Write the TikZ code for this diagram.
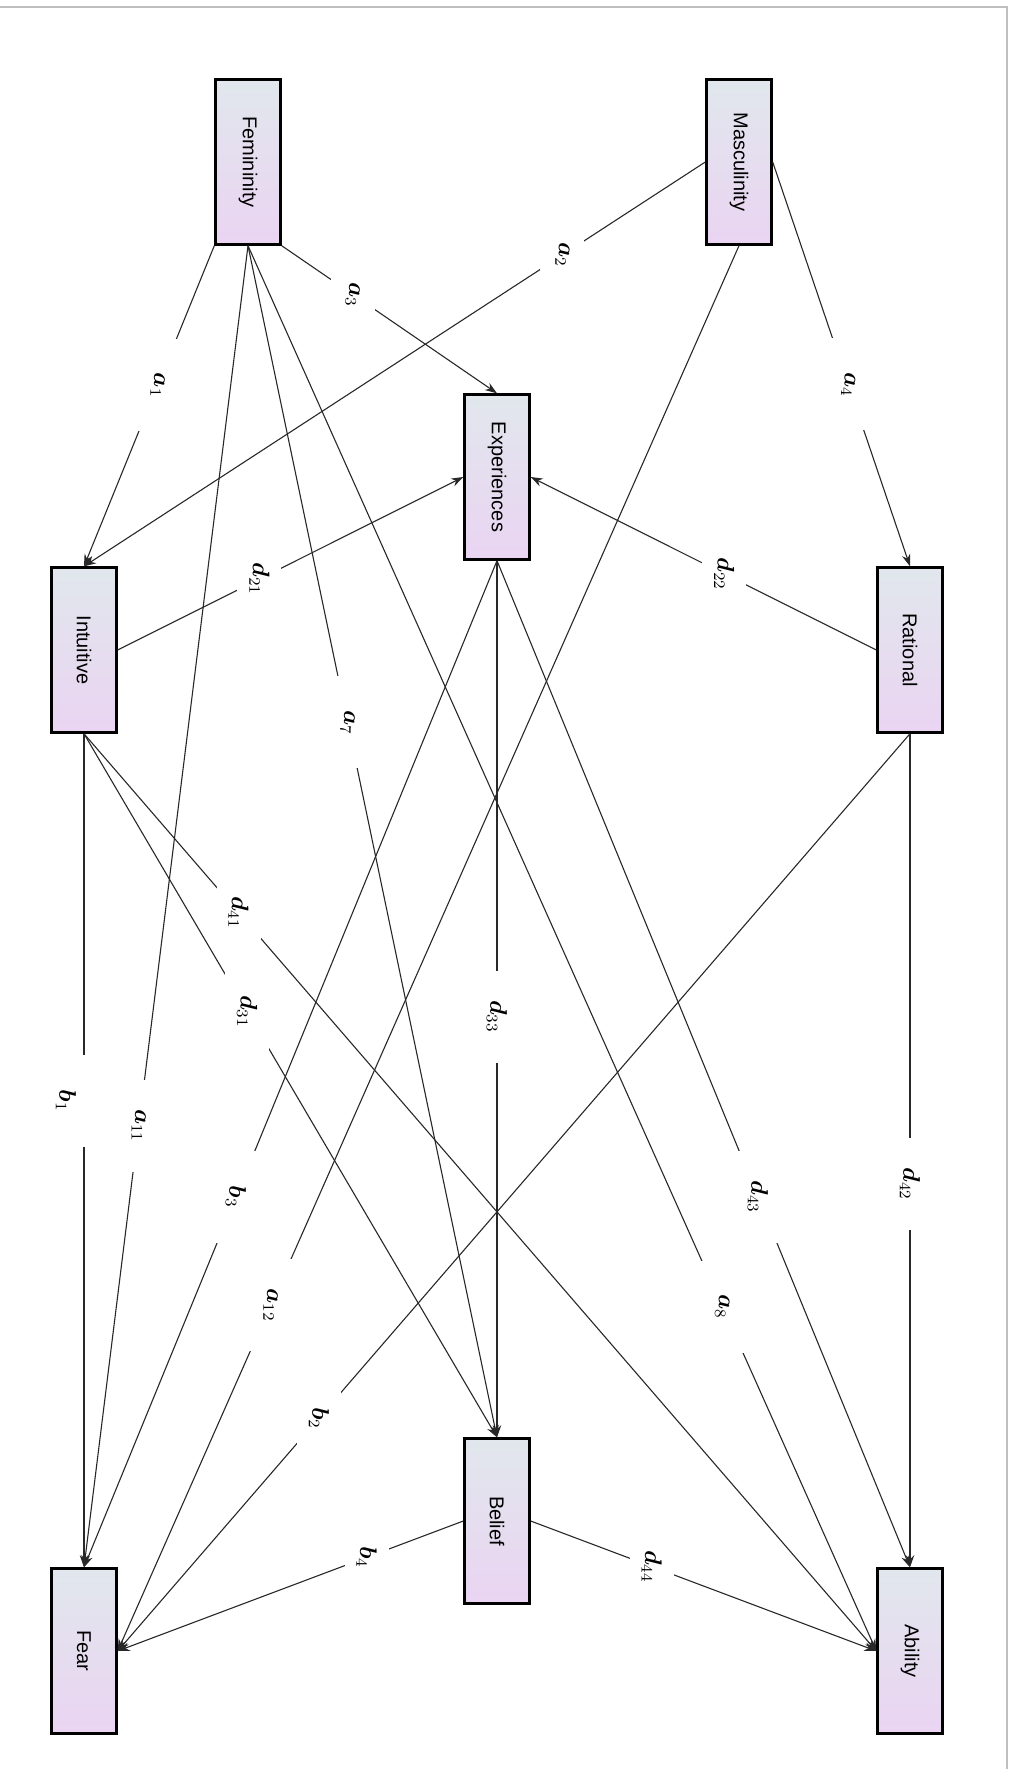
\documentclass[tikz,border=0pt]{standalone}
\usepackage{fontspec}
\usepackage{graphicx}
\usepackage{bm}
\setmainfont{Liberation Sans}
\usetikzlibrary{arrows.meta, positioning}

\definecolor{boxtop}{RGB}{225,231,237}
\definecolor{boxbot}{RGB}{234,212,242}
\definecolor{edgegray}{RGB}{40,40,40}

\tikzset{
  var/.style = {draw, line width=1.2pt, rectangle, top color=boxtop, bottom color=boxbot,
                minimum width=32.5pt, minimum height=82.5pt, inner sep=0pt,
                font=\fontsize{10}{12}\selectfont},
  path/.style = {draw=edgegray, line width=0.55pt, -{Stealth[length=6pt, width=4.2pt]}},
  lbl/.style = {fill=white, rotate=-90, inner sep=0pt, minimum width=46pt,
                minimum height=22pt, font=\fontsize{12}{12}\selectfont}
}

\newcommand{\vtext}[1]{\rotatebox{-90}{#1}}

\begin{document}
\begin{tikzpicture}[x=0.5pt, y=-0.5pt]
  \useasboundingbox (0,0) rectangle (1010,1769);
  \draw[gray!50, line width=1pt] (0,7) -- (1007,7) -- (1007,1769);

  % variables
  \node[var] (fem)  at (248,162)  {\vtext{Femininity}};
  \node[var] (masc) at (739,162)  {\vtext{Masculinity}};
  \node[var] (exp)  at (497,477)  {\vtext{Experiences}};
  \node[var] (int)  at (84,650)   {\vtext{Intuitive}};
  \node[var] (rat)  at (910,650)  {\vtext{Rational}};
  \node[var] (bel)  at (497,1521) {\vtext{Belief}};
  \node[var] (fear) at (84,1651)  {\vtext{Fear}};
  \node[var] (abil) at (910,1651) {\vtext{Ability}};

  % paths from the gender roles
  \draw[path] (fem.south west) -- node[lbl, pos=.435] {$\bm{a}_{1}$} (int.north);
  \draw[path] (masc.west)      -- node[lbl, pos=.23]  {$\bm{a}_{2}$} (int.north);
  \draw[path] (fem.south east) -- node[lbl, pos=.33]  {$\bm{a}_{3}$} (exp.north);
  \draw[path] (masc.east)      -- node[lbl, pos=.55]  {$\bm{a}_{4}$} (rat.north);
  \draw[path] (fem.south)      -- node[lbl, pos=.40]  {$\bm{a}_{7}$} (bel.north);
  \draw[path] (fem.south)      -- node[lbl, pos=.755] {$\bm{a}_{8}$} (abil.west);
  \draw[path] (fem.south)      -- node[lbl, pos=.666] {$\bm{a}_{11}$} (fear.north);
  \draw[path] (masc.south)     -- node[lbl, pos=.754] {$\bm{a}_{12}$} (fear.east);

  % thinking styles
  \draw[path] (int.east)  -- node[lbl, pos=.41]  {$\bm{d}_{21}$} (exp.west);
  \draw[path] (rat.west)  -- node[lbl, pos=.44]  {$\bm{d}_{22}$} (exp.east);
  \draw[path] (int.south) -- node[lbl, pos=.395] {$\bm{d}_{31}$} (bel.north);
  \draw[path] (int.south) -- node[lbl, pos=.195] {$\bm{d}_{41}$} (abil.west);
  \draw[path] (int.south) -- node[xshift=-9pt, lbl, pos=.44] {$\bm{b}_{1}$} (fear.north);
  \draw[path] (rat.south) -- node[lbl, pos=.54]  {$\bm{d}_{42}$} (abil.north);
  \draw[path] (rat.south) -- node[lbl, pos=.746] {$\bm{b}_{2}$} (fear.east);

  % experiences and belief
  \draw[path] (exp.south) -- node[lbl, pos=.52]  {$\bm{d}_{33}$} (bel.north);
  \draw[path] (exp.south) -- node[lbl, pos=.632] {$\bm{b}_{3}$} (fear.north);
  \draw[path] (exp.south) -- node[lbl, pos=.632] {$\bm{d}_{43}$} (abil.north);
  \draw[path] (bel.west)  -- node[lbl, pos=.28]  {$\bm{b}_{4}$} (fear.east);
  \draw[path] (bel.east)  -- node[lbl, pos=.35]  {$\bm{d}_{44}$} (abil.west);
\end{tikzpicture}
\end{document}
